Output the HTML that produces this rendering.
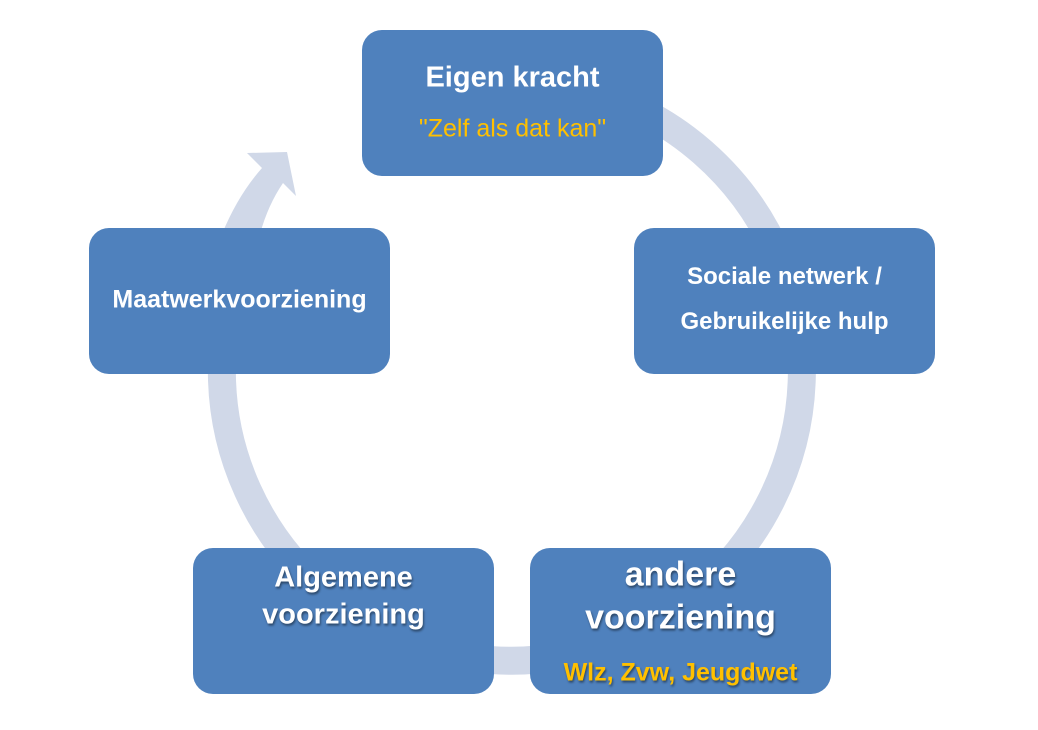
<!DOCTYPE html>
<html><head><style>
body{margin:0;width:1038px;height:730px;background:#fff;position:relative;overflow:hidden;font-family:"Liberation Sans",sans-serif}
.b{position:absolute;width:301px;height:146px;background:#4f81bd;border-radius:20px;box-sizing:border-box}
.t{position:absolute;left:0;width:100%;text-align:center;color:#fff;font-weight:bold;white-space:nowrap;transform:translateY(-50%)}
.sh{text-shadow:1px 2px 2px rgba(0,0,0,0.45)}
.o{color:#ffc000}
</style></head><body>
<svg width="1038" height="730" style="position:absolute;left:0;top:0">
<path d="M462 85 A290 290 0 1 1 253 240" fill="none" stroke="#d0d8e8" stroke-width="28"/>
<path d="M222 234 Q238 195 262 168 L247 153 L287 152 L296 196 L283 183 Q268 205 260 234 Z" fill="#d0d8e8"/>
</svg>
<div class="b" style="left:362px;top:30px;">
<div class="t" style="font-size:29px;top:48px">Eigen kracht</div>
<div class="t o" style="font-size:25px;font-weight:normal;top:99px">"Zelf als dat kan"</div></div>
<div class="b" style="left:634px;top:228px;">
<div class="t" style="font-size:24px;top:49px">Sociale netwerk /</div>
<div class="t" style="font-size:24px;top:94px">Gebruikelijke hulp</div></div>
<div class="b sh" style="left:530px;top:548px;">
<div class="t" style="font-size:34px;top:27px">andere</div>
<div class="t" style="font-size:34px;top:70px">voorziening</div>
<div class="t o" style="font-size:25px;top:125px">Wlz, Zvw, Jeugdwet</div></div>
<div class="b sh" style="left:193px;top:548px;">
<div class="t" style="font-size:29px;top:30px">Algemene</div>
<div class="t" style="font-size:29px;top:67px">voorziening</div></div>
<div class="b" style="left:89px;top:228px;">
<div class="t" style="font-size:25px;top:72px">Maatwerkvoorziening</div></div>
</body></html>
